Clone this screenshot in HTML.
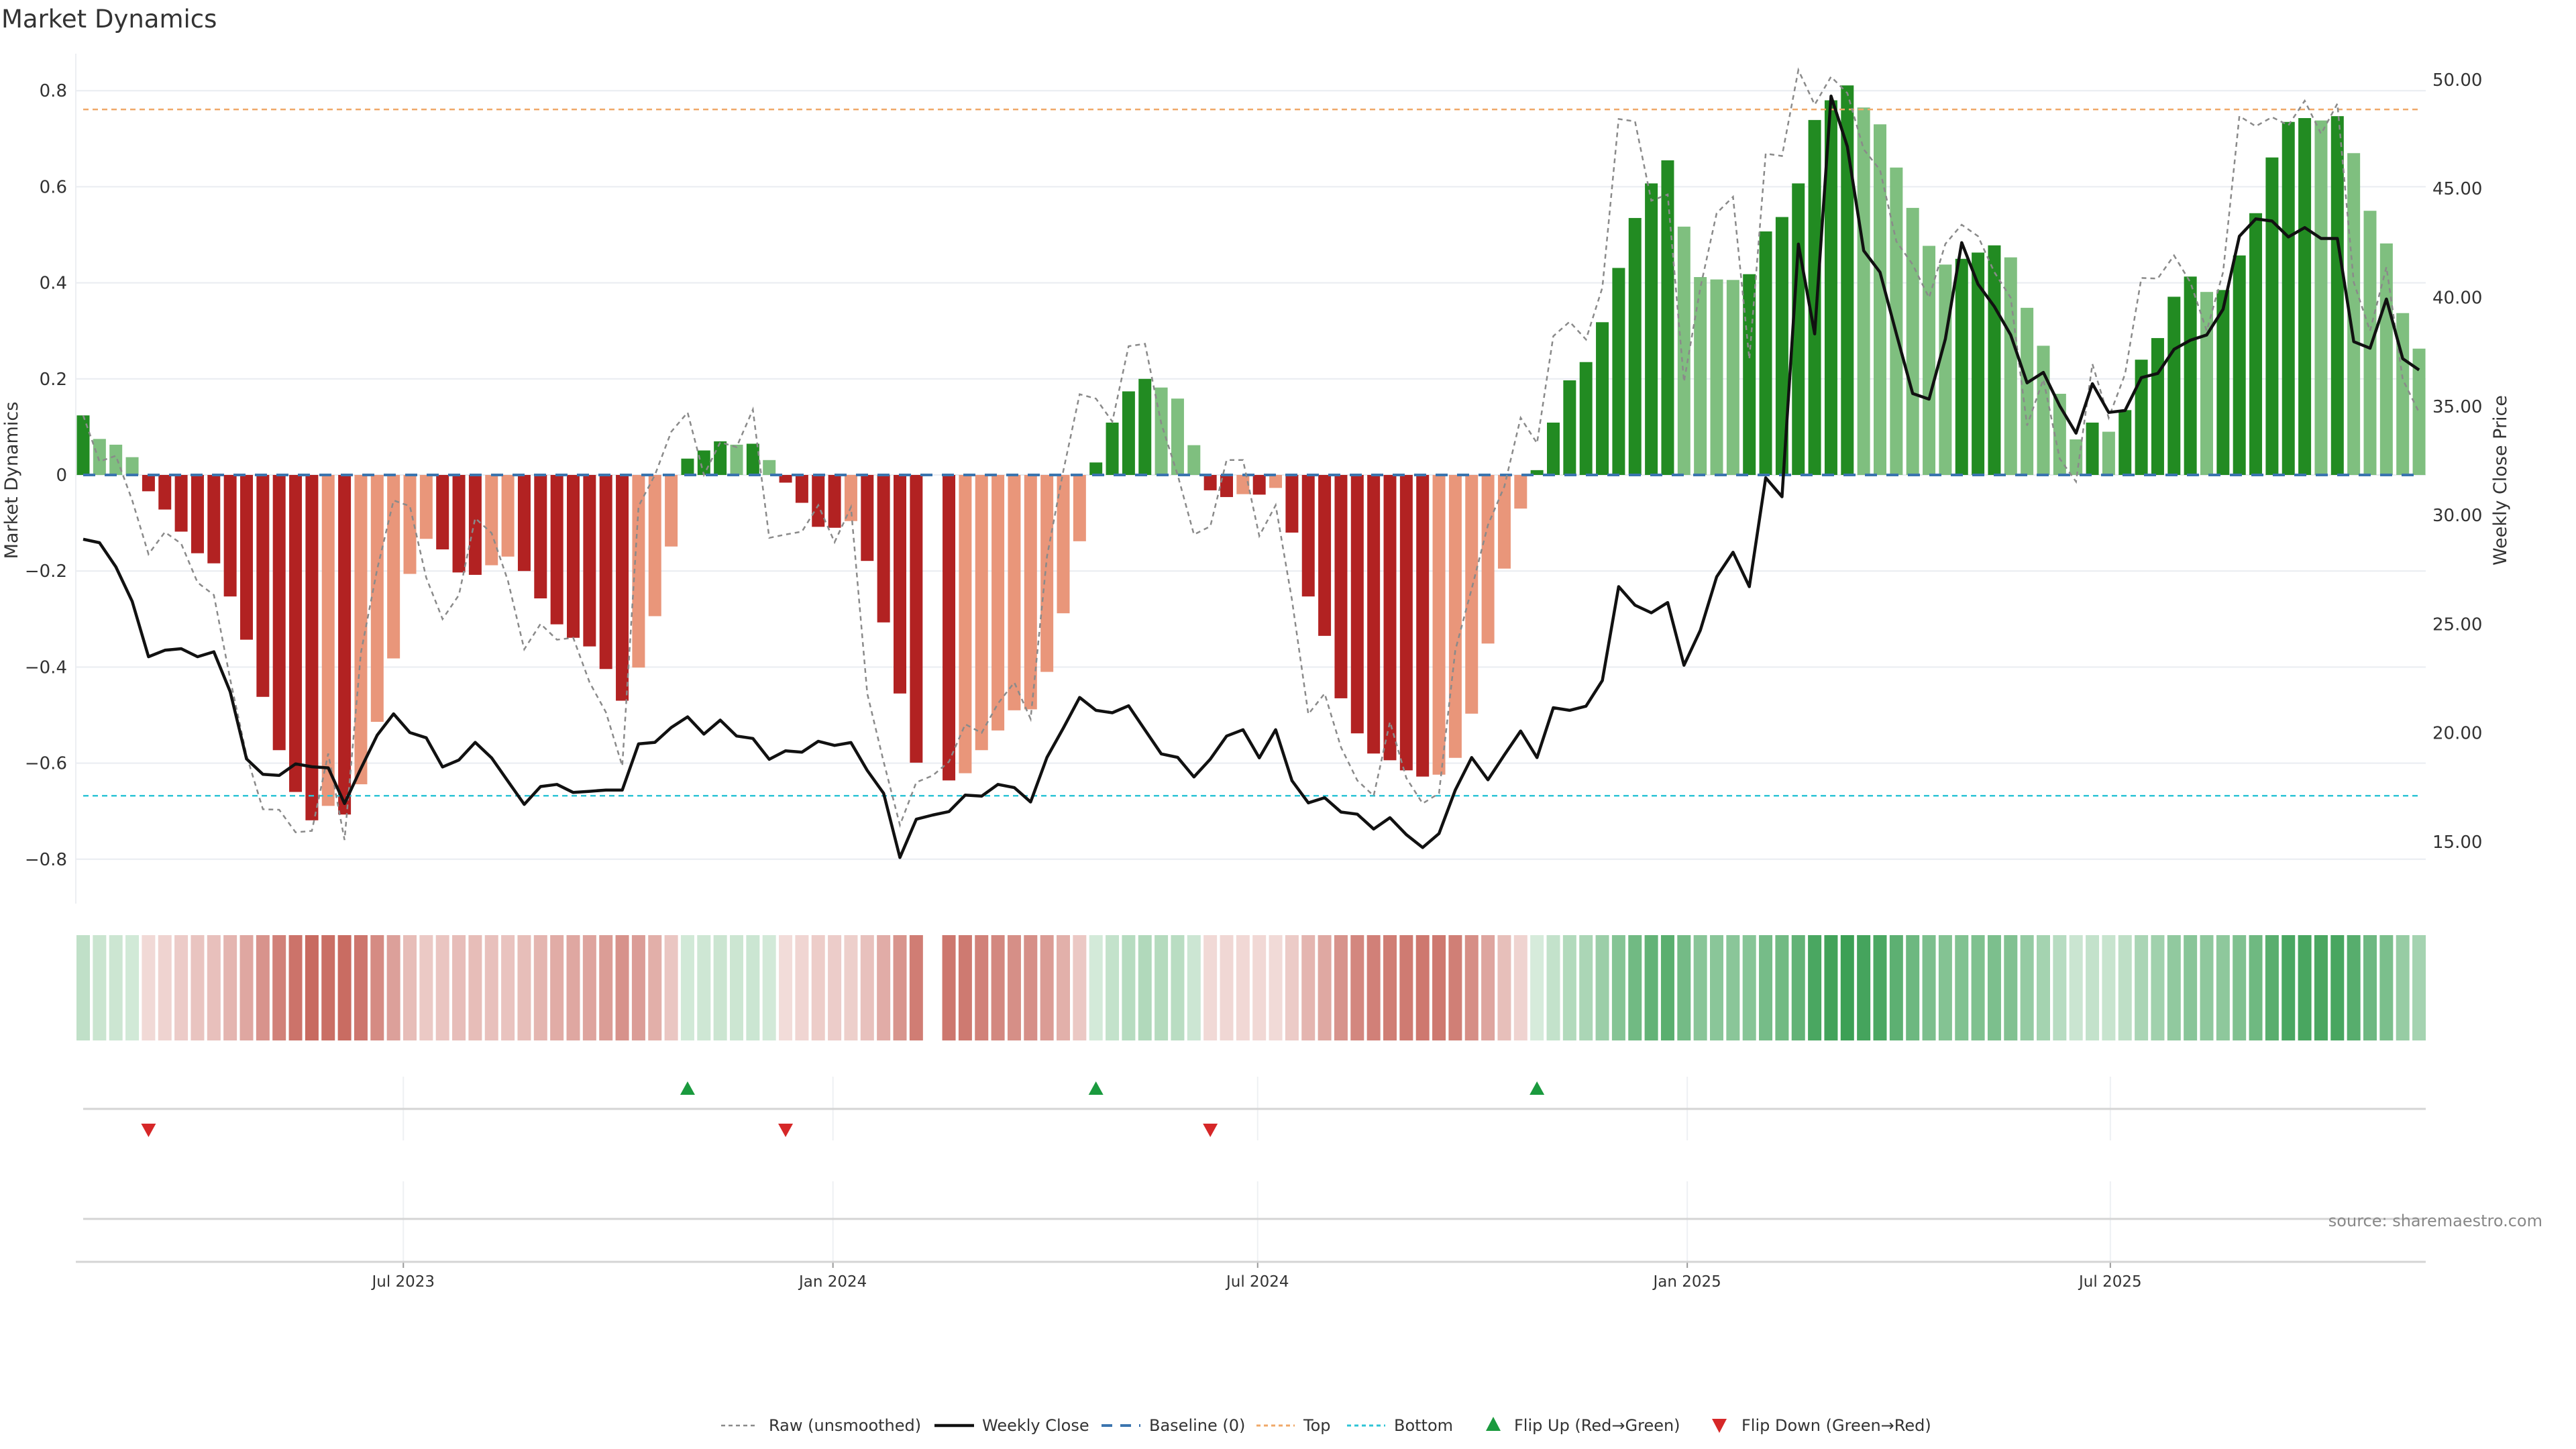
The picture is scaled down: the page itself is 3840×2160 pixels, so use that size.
<!DOCTYPE html>
<html><head><meta charset="utf-8"><style>
html,body{margin:0;padding:0;background:#fff;}
svg{display:block;font-family:"DejaVu Sans","Liberation Sans",sans-serif;}
</style></head><body>
<svg id="chart" width="3840" height="2160" viewBox="0 0 3840 2160" xmlns="http://www.w3.org/2000/svg">
<rect width="3840" height="2160" fill="#fff"/>
<text x="2" y="41" font-size="37" fill="#333">Market Dynamics</text>
<g id="grid"></g><g id="bars"></g><g id="refs"></g><g id="lines"></g><g id="axes"></g><g id="heat"></g><g id="flips"></g><g id="legend"></g>
<text transform="translate(26,716) rotate(-90)" text-anchor="middle" font-size="27" fill="#333">Market Dynamics</text>
<text transform="translate(3736,716) rotate(-90)" text-anchor="middle" font-size="27" fill="#333">Weekly Close Price</text>
<text x="3790" y="1828" text-anchor="end" font-size="24" fill="#888">source: sharemaestro.com</text>
</svg>
<script>
const momentum=[0.124,0.075,0.063,0.037,-0.034,-0.072,-0.118,-0.163,-0.184,-0.253,-0.343,-0.462,-0.573,-0.66,-0.719,-0.689,-0.707,-0.644,-0.514,-0.382,-0.206,-0.133,-0.155,-0.203,-0.208,-0.188,-0.17,-0.2,-0.257,-0.311,-0.339,-0.357,-0.404,-0.47,-0.401,-0.294,-0.149,
0.034,0.051,0.070,0.063,0.065,0.031,-0.016,-0.058,-0.108,-0.110,-0.096,-0.179,-0.307,-0.455,-0.599,null,-0.636,-0.621,-0.573,-0.532,-0.49,-0.488,-0.41,-0.288,-0.138,0.026,0.109,0.174,0.2,0.182,0.159,0.062,-0.032,-0.046,-0.04,-0.041,-0.027,
-0.12,-0.253,-0.335,-0.465,-0.538,-0.58,-0.594,-0.615,-0.628,-0.624,-0.589,-0.497,-0.351,-0.195,-0.07,0.01,0.109,0.197,0.235,0.318,0.431,0.535,0.607,0.655,0.517,0.412,0.407,0.406,0.418,0.507,0.537,0.607,0.739,0.78,
0.811,0.765,0.73,0.64,0.556,0.477,0.438,0.45,0.463,0.478,0.453,0.348,0.269,0.169,0.074,0.109,0.09,0.135,0.24,0.285,0.371,0.413,0.381,0.385,0.457,0.545,0.661,0.735,0.743,0.738,0.747,0.67,0.55,0.482,0.337,0.263];
const closePrice=[28.9,28.74,27.63,26.04,23.5,23.8,23.87,23.5,23.73,21.9,18.81,18.1,18.05,18.58,18.45,18.4,16.76,18.37,19.9,20.88,20.02,19.78,18.44,18.76,19.57,18.86,17.79,16.72,17.54,17.64,17.27,17.32,17.38,17.38,19.5,19.57,20.25,
20.74,19.95,20.59,19.86,19.75,18.79,19.18,19.12,19.62,19.43,19.56,18.28,17.23,14.28,16.04,16.23,16.39,17.15,17.1,17.64,17.49,16.83,18.88,20.22,21.63,21.04,20.93,21.25,20.14,19.04,18.88,17.98,18.8,19.86,20.15,18.86,20.15,
17.81,16.79,17.03,16.37,16.27,15.59,16.11,15.33,14.74,15.38,17.38,18.87,17.85,18.99,20.09,18.87,21.16,21.04,21.23,22.41,26.72,25.87,25.52,25.99,23.11,24.72,27.17,28.3,26.72,31.72,30.85,42.45,38.33,49.25,
46.93,42.15,41.16,38.33,35.59,35.33,38.09,42.52,40.61,39.58,38.28,36.08,36.56,35.02,33.77,36.04,34.72,34.81,36.32,36.51,37.62,38.04,38.28,39.46,42.81,43.61,43.51,42.78,43.21,42.71,42.71,37.97,37.67,39.93,37.19,36.67];
const rawMomentum=[0.124,0.028,0.04,-0.053,-0.165,-0.119,-0.143,-0.224,-0.25,-0.425,-0.584,-0.696,-0.697,-0.744,-0.741,-0.58,-0.76,-0.37,-0.196,-0.053,-0.065,-0.214,-0.3,-0.25,-0.09,-0.121,-0.22,-0.363,-0.31,-0.343,-0.339,-0.432,-0.494,-0.606,-0.065,0,0.09,
0.13,0,0.068,0.058,0.136,-0.131,-0.124,-0.118,-0.063,-0.14,-0.067,-0.455,-0.597,-0.729,-0.64,-0.626,-0.597,-0.519,-0.537,-0.476,-0.432,-0.508,-0.17,0.008,0.168,0.159,0.111,0.268,0.273,0.107,0,-0.124,-0.107,0.031,0.031,-0.127,-0.063,
-0.26,-0.498,-0.455,-0.567,-0.636,-0.668,-0.514,-0.631,-0.684,-0.663,-0.365,-0.237,-0.104,-0.024,0.119,0.066,0.289,0.319,0.282,0.39,0.741,0.736,0.571,0.584,0.194,0.39,0.545,0.579,0.241,0.669,0.664,0.843,0.771,0.829,
0.795,0.678,0.635,0.486,0.438,0.369,0.481,0.521,0.497,0.422,0.369,0.103,0.199,0.034,-0.014,0.231,0.119,0.21,0.41,0.409,0.457,0.401,0.3,0.422,0.747,0.726,0.745,0.728,0.779,0.71,0.773,0.401,0.3,0.433,0.199,0.13];
const topLevel=0.761, bottomLevel=-0.668;
const leftTicks=[-0.8,-0.6,-0.4,-0.2,0,0.2,0.4,0.6,0.8];
const leftTickLabels=["−0.8","−0.6","−0.4","−0.2","0","0.2","0.4","0.6","0.8"];
const rightTicks=[15,20,25,30,35,40,45,50];
const dateTickIdx=[19.6,45.9,71.9,98.2,124.1];
const dateTickLabels=["Jul 2023","Jan 2024","Jul 2024","Jan 2025","Jul 2025"];

const NS="http://www.w3.org/2000/svg";
function mk(parent,tag,attrs){const e=document.createElementNS(NS,tag);for(const k in attrs)e.setAttribute(k,attrs[k]);parent.appendChild(e);return e;}
const X0=124, DX=24.35, Y0=708, YU=716, P0=31.85, PU=32.46;
const xs=i=>X0+i*DX;
const yL=v=>Y0-v*YU;
const yR=p=>Y0-(p-P0)*PU;
const G=id=>document.getElementById(id);

leftTicks.forEach((t,i)=>{
  const l=mk(G('grid'),'line',{x1:113,x2:3616,y1:yL(t),y2:yL(t),stroke:'#e9ecf1','stroke-width':2});
  
  
  const tx=mk(G('axes'),'text',{x:100,y:yL(t)+9,'text-anchor':'end','font-size':26,fill:'#333'});
  tx.textContent=leftTickLabels[i];
  
  
});
rightTicks.forEach(p=>{
  const tx=mk(G('axes'),'text',{x:3626,y:yR(p)+9,'font-size':26,fill:'#333'});
  tx.textContent=p.toFixed(2);
  
  
});
mk(G('axes'),'line',{x1:113,x2:113,y1:80,y2:1347,stroke:'#eceef2','stroke-width':2});

const BW=19;
momentum.forEach((v,i)=>{
  if(v===null)return;
  let prev=i>0?momentum[i-1]:null;
  const sameSign=prev!==null&&((prev>0)===(v>0));
  const dark=!sameSign||Math.abs(v)>=Math.abs(prev);
  const col=v>=0?(dark?'#228b22':'#7fbf7f'):(dark?'#b22222':'#e9967a');
  const y=Math.min(yL(v),Y0),h=Math.abs(yL(v)-Y0);
  const r=mk(G('bars'),'rect',{x:xs(i)-BW/2,y:y,width:BW,height:h,fill:col});
  
  
});

const base=mk(G('refs'),'line',{x1:124,x2:3606,y1:Y0,y2:Y0,stroke:'#3b75af','stroke-width':4,'stroke-dasharray':'18,14'});


const topL=mk(G('refs'),'line',{x1:124,x2:3606,y1:yL(topLevel),y2:yL(topLevel),stroke:'#f0a868','stroke-width':2.5,'stroke-dasharray':'8,6'});


const botL=mk(G('refs'),'line',{x1:124,x2:3606,y1:yL(bottomLevel),y2:yL(bottomLevel),stroke:'#2ec4d6','stroke-width':2.5,'stroke-dasharray':'8,6'});



const rawPts=rawMomentum.map((v,i)=>xs(i).toFixed(1)+','+yL(v).toFixed(1)).join(' ');
const rawL=mk(G('lines'),'polyline',{points:rawPts,fill:'none',stroke:'#8a8a8a','stroke-width':2.5,'stroke-dasharray':'7,6'});


const cPts=closePrice.map((p,i)=>xs(i).toFixed(1)+','+yR(p).toFixed(1)).join(' ');
const cL=mk(G('lines'),'polyline',{points:cPts,fill:'none',stroke:'#111','stroke-width':4.5,'stroke-linejoin':'round'});



function mix(c,a){return 'rgb('+c.map(v=>Math.round(255*(1-a)+v*a)).join(',')+')';}
momentum.forEach((v,i)=>{
  if(v===null)return;
  const a=Math.min(1,0.2+0.8*Math.abs(v)/0.81);
  const col=v>=0?mix([60,160,85],a):mix([195,91,80],a);
  const r=mk(G('heat'),'rect',{x:xs(i)-10,y:1394,width:20,height:157,fill:col});
  
  
});

dateTickIdx.forEach((d,k)=>{
  const x=xs(d);
  mk(G('flips'),'line',{x1:x,x2:x,y1:1605,y2:1700,stroke:'#eef0f3','stroke-width':2});
  mk(G('flips'),'line',{x1:x,x2:x,y1:1761,y2:1881,stroke:'#eef0f3','stroke-width':2});
  mk(G('flips'),'line',{x1:x,x2:x,y1:1881,y2:1890,stroke:'#999','stroke-width':2});
  const t=mk(G('axes'),'text',{x:x,y:1918,'text-anchor':'middle','font-size':23,fill:'#333'});
  t.textContent=dateTickLabels[k];
  
  
});
mk(G('flips'),'line',{x1:124,x2:3616,y1:1653,y2:1653,stroke:'#d4d4d4','stroke-width':3});
mk(G('flips'),'line',{x1:124,x2:3616,y1:1817,y2:1817,stroke:'#d4d4d4','stroke-width':3});
mk(G('flips'),'line',{x1:113,x2:3616,y1:1881,y2:1881,stroke:'#d4d4d4','stroke-width':3});
momentum.forEach((v,i)=>{
  if(v===null||i===0)return;
  let j=i-1; if(momentum[j]===null)j--;
  const p=momentum[j];
  if(p<0&&v>=0){
    const x=xs(i);
    const t=mk(G('flips'),'polygon',{points:`${x-11},1632 ${x+11},1632 ${x},1612`,fill:'#1a9a3e'});
    
    
  } else if(p>=0&&v<0){
    const x=xs(i);
    const t=mk(G('flips'),'polygon',{points:`${x-11},1675 ${x+11},1675 ${x},1695`,fill:'#d62728'});
    
    
  }
});

const L=G('legend'), LY=2133;
function ltext(x,s){const t=mk(L,'text',{x:x,y:LY,'font-size':24,fill:'#333'});t.textContent=s;}
mk(L,'line',{x1:1075,x2:1130,y1:LY-8,y2:LY-8,stroke:'#8a8a8a','stroke-width':2.5,'stroke-dasharray':'6,5'});ltext(1146,'Raw (unsmoothed)');
mk(L,'line',{x1:1393,x2:1452,y1:LY-8,y2:LY-8,stroke:'#111','stroke-width':4.5});ltext(1464,'Weekly Close');
mk(L,'line',{x1:1642,x2:1700,y1:LY-8,y2:LY-8,stroke:'#3b75af','stroke-width':4,'stroke-dasharray':'16,12'});ltext(1713,'Baseline (0)');
mk(L,'line',{x1:1873,x2:1930,y1:LY-8,y2:LY-8,stroke:'#f0a868','stroke-width':3,'stroke-dasharray':'6,5'});ltext(1943,'Top');
mk(L,'line',{x1:2008,x2:2065,y1:LY-8,y2:LY-8,stroke:'#2ec4d6','stroke-width':3,'stroke-dasharray':'6,5'});ltext(2078,'Bottom');
mk(L,'polygon',{points:`2215,${LY} 2237,${LY} 2226,${LY-21}`,fill:'#1a9a3e'});ltext(2257,'Flip Up (Red→Green)');
mk(L,'polygon',{points:`2552,${LY-18} 2574,${LY-18} 2563,${LY+3}`,fill:'#d62728'});ltext(2596,'Flip Down (Green→Red)');
</script>
</body></html>
